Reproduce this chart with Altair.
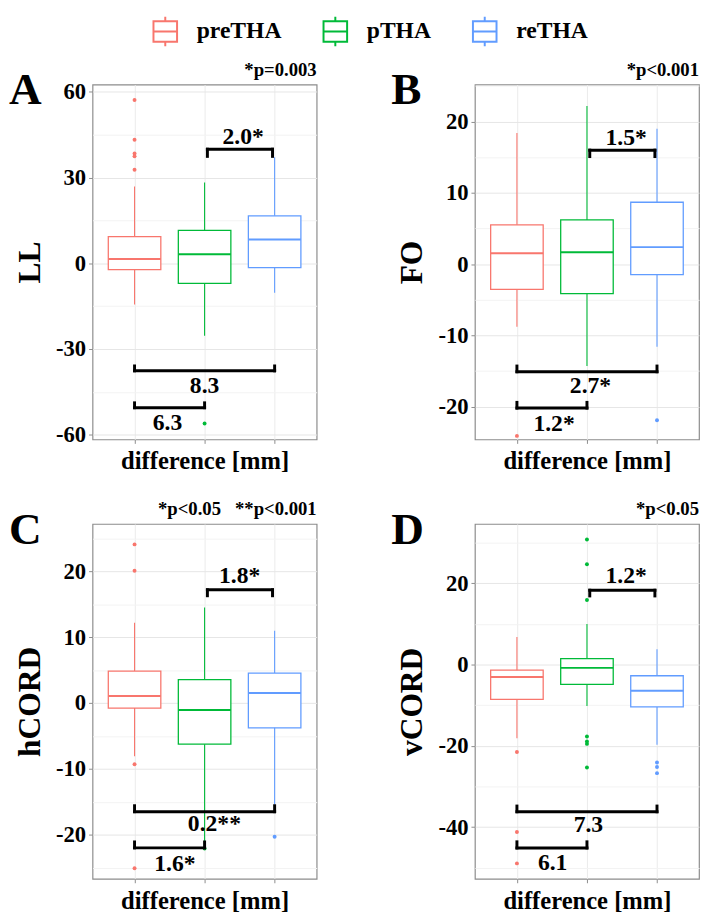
import json
import altair as alt
import pandas as pd

GROUPS = ["preTHA", "pTHA", "reTHA"]
COLORS = ["#F8766D", "#00BA38", "#619CFF"]
POS = [1, 2, 3]

# ---------------- Panel A : LL ----------------
A_lo = [-14.4, -25.3, -10.3]
A_q1 = [-2.2, -7.05, -1.5]
A_med = [1.5, 3.15, 8.3]
A_q3 = [9.3, 11.5, 16.6]
A_hi = [26.9, 28.3, 37.1]
A_out_g = ["preTHA", "preTHA", "preTHA", "preTHA", "preTHA", "pTHA"]
A_out_v = [57.1, 43.2, 38.4, 37.4, 32.7, -56.0]
A_br_x1 = [2.04, 1.0, 1.0]
A_br_x2 = [2.97, 3.0, 2.0]
A_br_y = [39.9, -37.6, -50.5]
A_br_tip = [37.4, -35.9, -48.8]
A_lab = ["2.0*", "8.3", "6.3"]
A_lab_x = [2.55, 2.0, 1.47]
A_lab_y = [44.0, -42.8, -56.0]

# ---------------- Panel B : FO ----------------
B_lo = [-8.8, -14.3, -11.6]
B_q1 = [-3.54, -4.14, -1.47]
B_med = [1.52, 1.66, 2.39]
B_q3 = [5.52, 6.2, 8.69]
B_hi = [18.4, 22.2, 19.0]
B_out_g = ["preTHA", "reTHA"]
B_out_v = [-24.1, -21.9]
B_br_x1 = [2.04, 1.0, 1.0]
B_br_x2 = [2.97, 3.0, 2.0]
B_br_y = [16.0, -15.1, -20.2]
B_br_tip = [15.1, -14.3, -19.4]
B_lab = ["1.5*", "2.7*", "1.2*"]
B_lab_x = [2.56, 2.05, 1.53]
B_lab_y = [17.7, -17.1, -22.4]

# ---------------- Panel C : hCORD ----------------
C_lo = [-8.1, -21.3, -15.4]
C_q1 = [-0.77, -6.25, -3.76]
C_med = [1.07, -1.07, 1.52]
C_q3 = [4.86, 3.56, 4.56]
C_hi = [12.2, 14.5, 11.0]
C_out_g = ["preTHA", "preTHA", "preTHA", "preTHA", "pTHA", "reTHA"]
C_out_v = [24.1, 20.1, -9.3, -25.1, -22.1, -20.3]
C_br_x1 = [2.04, 1.0, 1.0]
C_br_x2 = [2.97, 3.0, 2.0]
C_br_y = [17.2, -16.5, -22.0]
C_br_tip = [16.3, -15.6, -21.1]
C_lab = ["1.8*", "0.2**", "1.6*"]
C_lab_x = [2.5, 2.14, 1.575]
C_lab_y = [19.25, -18.4, -24.4]

# ---------------- Panel D : vCORD ----------------
D_lo = [-18.1, -10.2, -19.7]
D_q1 = [-8.55, -4.84, -10.4]
D_med = [-3.06, -0.8, -6.45]
D_q3 = [-1.37, 1.45, -2.74]
D_hi = [6.77, 10.0, 3.79]
D_out_g = ["preTHA", "preTHA", "preTHA",
           "pTHA", "pTHA", "pTHA", "pTHA", "pTHA", "pTHA", "pTHA",
           "reTHA", "reTHA", "reTHA"]
D_out_v = [-21.5, -41.2, -48.9,
           30.8, 24.7, 15.9, -17.7, -18.9, -19.5, -25.3,
           -24.1, -25.2, -26.7]
D_br_x1 = [2.04, 1.0, 1.0]
D_br_x2 = [2.97, 3.0, 2.0]
D_br_y = [18.3, -36.2, -45.1]
D_br_tip = [16.9, -34.8, -43.6]
D_lab = ["1.2*", "7.3", "6.1"]
D_lab_x = [2.56, 2.02, 1.51]
D_lab_y = [21.7, -39.6, -48.9]

FONT = "Liberation Serif"
W, H = 228, 361
NB = "\u00a0"
GROUP_COLOR = dict(zip(GROUPS, COLORS))
GROUP_POS = dict(zip(GROUPS, POS))

SYMBOL = "M-0.8,-0.7H0.8V0.7H-0.8Z M-0.8,0H0.8 M0,-0.7V-1 M0,0.7V1"

LEGEND = alt.Legend(
    title=None, orient="none", legendX=58, legendY=-70, direction="horizontal",
    symbolType=SYMBOL, symbolSize=900, symbolStrokeWidth=2, symbolFillColor="transparent",
    labelFont=FONT, labelFontSize=24, labelFontWeight="bold", labelColor="black",
    labelOffset=16, columnPadding=38, padding=0,
)


def panel(letter, ptext, ytitle, domain, majors, minors, lo, q1, med, q3, hi,
          out_g, out_v, bx1, bx2, by, btip, lab, lab_x, lab_y):
    box_df = pd.DataFrame({
        "group": GROUPS, "pos": POS,
        "left": [p - 0.375 for p in POS], "right": [p + 0.375 for p in POS],
        "lo": lo, "q1": q1, "med": med, "q3": q3, "hi": hi,
    })
    out_df = pd.DataFrame({"group": out_g, "value": out_v})
    out_df["pos"] = out_df["group"].map(GROUP_POS)
    out_df["col"] = out_df["group"].map(GROUP_COLOR)
    br_df = pd.DataFrame({"x1": bx1, "x2": bx2, "y": by})
    tip_df = pd.DataFrame({
        "x": bx1 + bx2, "y": by + by, "y2": btip + btip,
    })
    lab_df = pd.DataFrame({"t": lab, "x": lab_x, "y": lab_y})

    xscale = alt.Scale(domain=[0.4, 3.6], nice=False, zero=False)
    yscale = alt.Scale(domain=domain, nice=False, zero=False)
    cscale = alt.Scale(domain=GROUPS, range=COLORS)
    test = "indexof(%s, datum.value) >= 0" % json.dumps(majors)

    xaxis = alt.Axis(
        values=[1, 2, 3], labels=False, ticks=True, tickSize=4, tickColor="#8c8c8c",
        domain=False, grid=True, gridColor="#ebebeb", gridWidth=1,
        title="difference [mm]", titleFont=FONT, titleFontWeight="bold", titleColor="black",
        titleFontSize=25, titleX=W / 2, titleY=30,
        titleBaseline="alphabetic", titleAlign="center",
    )
    yaxis = alt.Axis(
        values=majors + minors,
        labelExpr=f"{test} ? toString(datum.value) : ''",
        labelFont=FONT, labelFontSize=23, labelFontWeight="bold", labelColor="black",
        tickOpacity={"condition": {"test": test, "value": 1}, "value": 0},
        gridColor={"condition": {"test": test, "value": "#e6e6e6"}, "value": "#f3f3f3"},
        tickSize=4, tickColor="#8c8c8c", labelPadding=3, domain=False,
        title=ytitle, titleFont=FONT, titleFontWeight="bold", titleColor="black",
        titleFontSize=32, titleX=-64, titleY=H / 2,
        titleAngle=270, titleBaseline="middle", titleAlign="center",
    )

    def X(f):
        return alt.X(f, type="quantitative", scale=xscale, axis=xaxis)

    def Y(f):
        return alt.Y(f, type="quantitative", scale=yscale, axis=yaxis)

    stroke = alt.Stroke("group:N", scale=cscale, legend=LEGEND)

    whisk = alt.Chart(box_df).mark_rule(strokeWidth=1.1).encode(
        x=X("pos"), y=Y("lo"), y2="hi", stroke=stroke,
    )
    box_bg = alt.Chart(box_df).mark_rect(fill="white").encode(
        x=X("left"), x2="right", y=Y("q1"), y2="q3",
    )
    box = alt.Chart(box_df).mark_rect(filled=False, strokeWidth=1.3).encode(
        x=X("left"), x2="right", y=Y("q1"), y2="q3", stroke=stroke,
    )
    median = alt.Chart(box_df).mark_rule(strokeWidth=2).encode(
        x=X("left"), x2="right", y=Y("med"), stroke=stroke,
    )
    outl = alt.Chart(out_df).mark_circle(size=16, opacity=1).encode(
        x=X("pos"), y=Y("value"),
        fill=alt.Fill("col:N", scale=None),
    )
    brack = alt.Chart(br_df).mark_rule(strokeWidth=3, color="black", strokeCap="square").encode(
        x=X("x1"), x2="x2", y=Y("y"),
    )
    tips = alt.Chart(tip_df).mark_rule(strokeWidth=3, color="black", strokeCap="square").encode(
        x=X("x"), y=Y("y"), y2="y2",
    )
    labels = alt.Chart(lab_df).mark_text(
        font=FONT, fontSize=24, fontWeight="bold", color="black",
        align="center", baseline="middle",
    ).encode(x=X("x"), y=Y("y"), text="t:N")
    letter_t = alt.Chart(pd.DataFrame({"t": [letter]})).mark_text(
        font=FONT, fontSize=46, fontWeight="bold", color="black",
        align="left", baseline="alphabetic",
    ).encode(x=alt.value(-85), y=alt.value(20), text="t:N")
    p_t = alt.Chart(pd.DataFrame({"t": [ptext]})).mark_text(
        font=FONT, fontSize=19, fontWeight="bold", color="black",
        align="right", baseline="alphabetic",
    ).encode(x=alt.value(W), y=alt.value(-9), text="t:N")

    return alt.layer(whisk, box_bg, box, median, outl, brack, tips, labels, letter_t, p_t).properties(
        width=W, height=H
    )


pA = panel("A", "*p=0.003", "LL", [-61.6, 62.5], [60, 30, 0, -30, -60], [45, 15, -15, -45],
           A_lo, A_q1, A_med, A_q3, A_hi, A_out_g, A_out_v,
           A_br_x1, A_br_x2, A_br_y, A_br_tip, A_lab, A_lab_x, A_lab_y)
pB = panel("B", "*p<0.001", "FO", [-24.6, 25.2], [20, 10, 0, -10, -20], [25, 15, 5, -5, -15],
           B_lo, B_q1, B_med, B_q3, B_hi, B_out_g, B_out_v,
           B_br_x1, B_br_x2, B_br_y, B_br_tip, B_lab, B_lab_x, B_lab_y)
pC = panel("C", f"*p<0.05{NB*3}**p<0.001", "hCORD", [-26.7, 27.2], [20, 10, 0, -10, -20],
           [25, 15, 5, -5, -15, -25],
           C_lo, C_q1, C_med, C_q3, C_hi, C_out_g, C_out_v,
           C_br_x1, C_br_x2, C_br_y, C_br_tip, C_lab, C_lab_x, C_lab_y)
pD = panel("D", "*p<0.05", "vCORD", [-52.7, 34.6], [20, 0, -20, -40], [30, 10, -10, -30, -50],
           D_lo, D_q1, D_med, D_q3, D_hi, D_out_g, D_out_v,
           D_br_x1, D_br_x2, D_br_y, D_br_tip, D_lab, D_lab_x, D_lab_y)

chart = alt.vconcat(
    alt.hconcat(pA, pB, spacing=74),
    alt.hconcat(pC, pD, spacing=74),
    spacing=25,
).properties(padding=0).configure(font=FONT).configure_axis(
    labelFont=FONT, labelFontSize=23, labelFontWeight="bold", labelColor="black",
    titleFont=FONT, titleFontWeight="bold", titleColor="black",
).configure_legend(
    labelFont=FONT, labelFontSize=24, labelFontWeight="bold",
).configure_view(stroke="#8c8c8c", strokeWidth=1.2)

chart.save("out.html", embed_options={"renderer": "svg", "actions": False})
